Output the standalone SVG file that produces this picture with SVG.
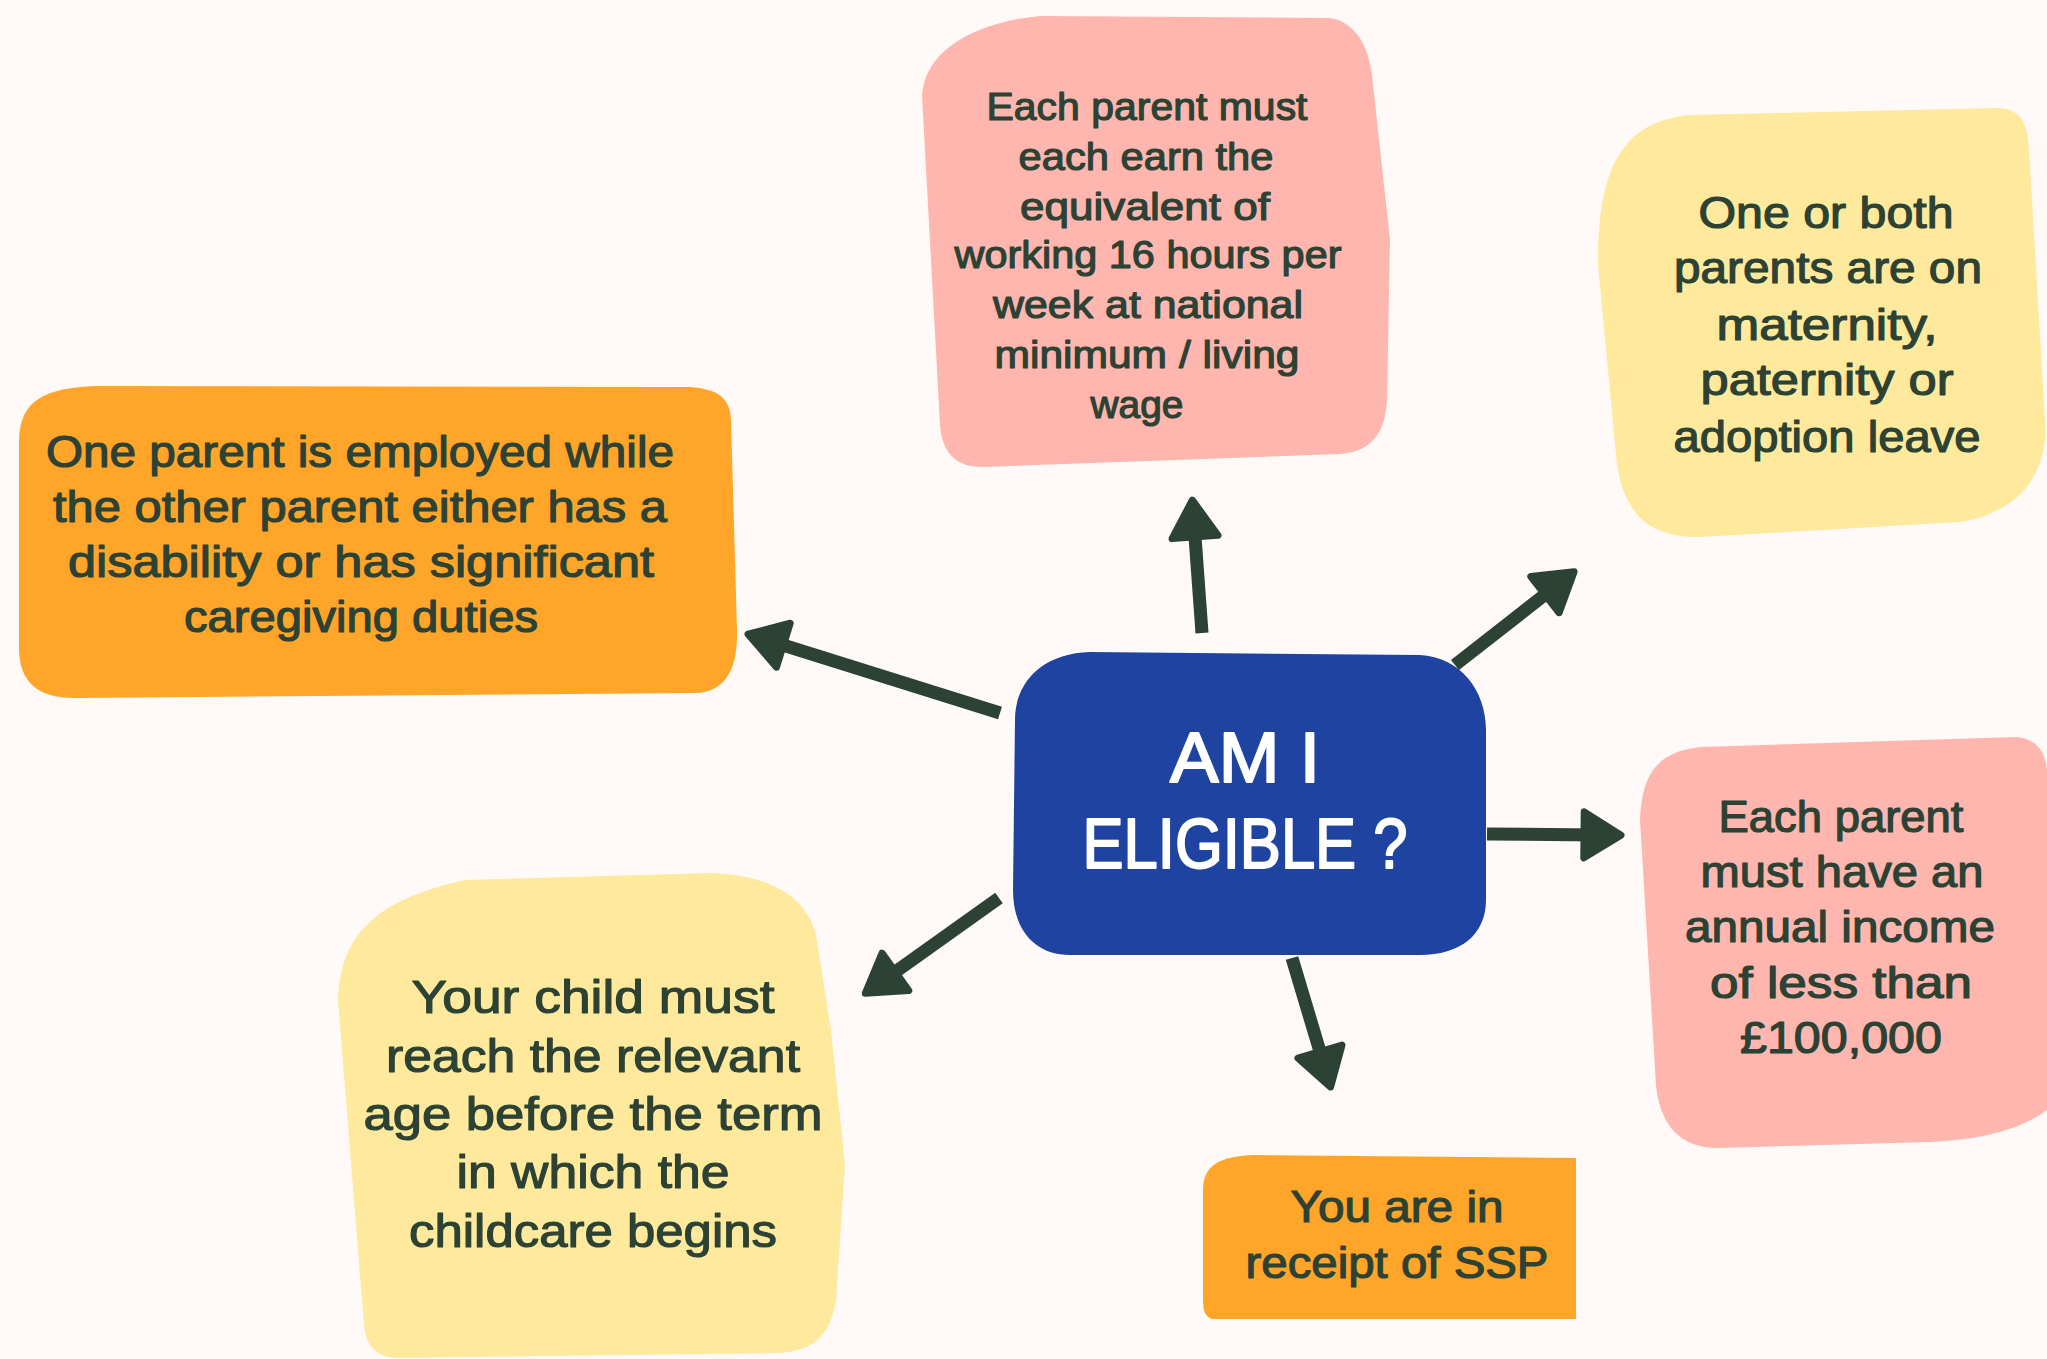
<svg xmlns="http://www.w3.org/2000/svg" width="2047" height="1359" viewBox="0 0 2047 1359">
<style>
.t{font-family:"Liberation Sans","Open Sans",Arial,sans-serif;fill:#2C4234;stroke:#2C4234;stroke-width:1.2;stroke-linejoin:round;text-anchor:middle}
.m{font-size:44px}
.s{font-size:39px}
.l{font-size:47px}
.c{font-family:"Liberation Sans","Open Sans",Arial,sans-serif;font-size:70px;fill:#FFFFFF;stroke:#FFFFFF;stroke-width:2;stroke-linejoin:round;text-anchor:middle}
.orange{fill:#FFA52A}
.pink{fill:#FFB6AF}
.yellow{fill:#FFE99C}
.blue{fill:#1E43A0}
.conn{fill:none;stroke:#2C4234;stroke-width:13;marker-end:url(#head)}
</style>
<defs>
<marker id="head" markerUnits="userSpaceOnUse" viewBox="0 0 48 54" markerWidth="48" markerHeight="54" refX="18" refY="27" orient="auto" overflow="visible">
<path d="M4,4 L41,27 L4,50 Z" fill="#2C4234" stroke="#2C4234" stroke-width="7" stroke-linejoin="round"/>
</marker>
</defs>
<rect x="0" y="0" width="2047" height="1359" fill="#FFFAF8"/>

<g id="node-disability">
<path class="orange" d="M19,440 C20,400 45,387 100,386 L690,387 C718,389 730,398 731,420 L737,630 C738,670 725,692 695,693 L75,698 C35,698 20,680 19,650 Z"/>
<text class="t m" x="360" y="467" textLength="628" lengthAdjust="spacingAndGlyphs">One parent is employed while</text>
<text class="t m" x="360" y="522" textLength="614" lengthAdjust="spacingAndGlyphs">the other parent either has a</text>
<text class="t m" x="361" y="577" textLength="586" lengthAdjust="spacingAndGlyphs">disability or has significant</text>
<text class="t m" x="361" y="632" textLength="354" lengthAdjust="spacingAndGlyphs">caregiving duties</text>
</g>

<g id="node-earn">
<path class="pink" d="M922,95 C925,50 975,22 1040,16 L1330,18 C1355,22 1368,45 1372,75 L1390,240 L1387,400 C1385,440 1365,452 1340,454 L985,467 C955,468 942,452 940,425 Z"/>
<text class="t s" x="1147" y="120" textLength="321" lengthAdjust="spacingAndGlyphs">Each parent must</text>
<text class="t s" x="1146" y="170" textLength="255" lengthAdjust="spacingAndGlyphs">each earn the</text>
<text class="t s" x="1145" y="220" textLength="250" lengthAdjust="spacingAndGlyphs">equivalent of</text>
<text class="t s" x="1148" y="268" textLength="387" lengthAdjust="spacingAndGlyphs">working 16 hours per</text>
<text class="t s" x="1148" y="318" textLength="310" lengthAdjust="spacingAndGlyphs">week at national</text>
<text class="t s" x="1147" y="368" textLength="305" lengthAdjust="spacingAndGlyphs">minimum / living</text>
<text class="t s" x="1137" y="418" textLength="93" lengthAdjust="spacingAndGlyphs">wage</text>
</g>

<g id="node-leave">
<path class="yellow" d="M1598,265 C1598,170 1620,122 1690,115 L2000,108 C2022,110 2028,125 2029,150 L2045,420 C2050,480 2010,515 1960,522 L1700,537 C1650,538 1625,515 1617,465 Z"/>
<text class="t m" x="1826" y="228" textLength="255" lengthAdjust="spacingAndGlyphs">One or both</text>
<text class="t m" x="1828" y="283" textLength="308" lengthAdjust="spacingAndGlyphs">parents are on</text>
<text class="t m" x="1827" y="340" textLength="221" lengthAdjust="spacingAndGlyphs">maternity,</text>
<text class="t m" x="1827" y="395" textLength="253" lengthAdjust="spacingAndGlyphs">paternity or</text>
<text class="t m" x="1827" y="452" textLength="307" lengthAdjust="spacingAndGlyphs">adoption leave</text>
</g>

<g id="node-income">
<path class="pink" d="M1640,820 C1642,770 1660,752 1700,747 L2015,737 C2035,738 2045,750 2047,770 L2047,1110 C2020,1130 1980,1140 1930,1142 L1720,1148 C1680,1149 1660,1125 1656,1085 Z"/>
<text class="t m" x="1841" y="832" textLength="245" lengthAdjust="spacingAndGlyphs">Each parent</text>
<text class="t m" x="1842" y="887" textLength="283" lengthAdjust="spacingAndGlyphs">must have an</text>
<text class="t m" x="1840" y="942" textLength="310" lengthAdjust="spacingAndGlyphs">annual income</text>
<text class="t m" x="1841" y="998" textLength="262" lengthAdjust="spacingAndGlyphs">of less than</text>
<text class="t m" x="1841" y="1053" textLength="202" lengthAdjust="spacingAndGlyphs">£100,000</text>
</g>

<g id="node-child">
<path class="yellow" d="M338,1000 C340,935 375,900 465,880 L713,873 C770,876 805,895 816,935 L831,1030 L845,1165 L836,1300 C830,1335 815,1350 780,1353 L400,1358 C375,1358 366,1345 364,1325 Z"/>
<text class="t l" x="593" y="1013" textLength="363" lengthAdjust="spacingAndGlyphs">Your child must</text>
<text class="t l" x="593" y="1072" textLength="414" lengthAdjust="spacingAndGlyphs">reach the relevant</text>
<text class="t l" x="593" y="1130" textLength="459" lengthAdjust="spacingAndGlyphs">age before the term</text>
<text class="t l" x="593" y="1188" textLength="273" lengthAdjust="spacingAndGlyphs">in which the</text>
<text class="t l" x="593" y="1247" textLength="368" lengthAdjust="spacingAndGlyphs">childcare begins</text>
</g>

<g id="node-ssp">
<path class="orange" d="M1203,1190 C1203,1165 1220,1156 1255,1155 L1576,1158 L1576,1319 L1212,1319 C1205,1317 1203,1310 1203,1300 Z"/>
<text class="t m" x="1397" y="1222" textLength="213" lengthAdjust="spacingAndGlyphs">You are in</text>
<text class="t m" x="1397" y="1278" textLength="303" lengthAdjust="spacingAndGlyphs">receipt of SSP</text>
</g>

<g id="node-center">
<path class="blue" d="M1090,652 L1420,655 C1460,657 1486,690 1486,730 L1486,900 C1486,935 1460,955 1420,955 L1070,955 C1035,955 1013,930 1013,890 L1015,720 C1015,680 1045,653 1090,652 Z"/>
<text class="c" x="1245" y="782" textLength="150" lengthAdjust="spacingAndGlyphs">AM I</text>
<text class="c" x="1245" y="868" textLength="325" lengthAdjust="spacingAndGlyphs">ELIGIBLE ?</text>
</g>

<g id="connectors">
<path class="conn" d="M1000,713 L770,641"/>
<path class="conn" d="M1202,633 L1194,523"/>
<path class="conn" d="M1455,665 L1556,586"/>
<path class="conn" d="M1487,834 L1598,835"/>
<path class="conn" d="M1292,958 L1324,1065"/>
<path class="conn" d="M999,898 L884,980"/>
</g>
</svg>
